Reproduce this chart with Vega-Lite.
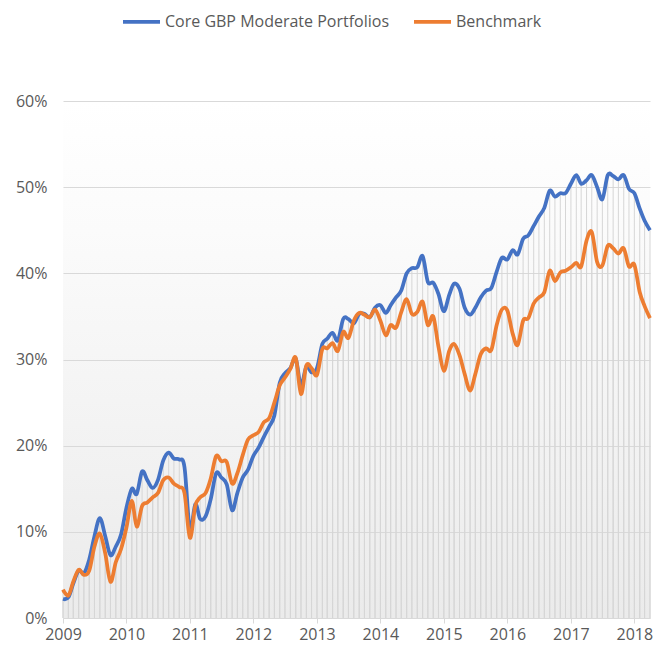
{
  "$schema": "https://vega.github.io/schema/vega-lite/v6.json",
  "width": 587,
  "height": 517,
  "autosize": "none",
  "padding": {"left": 63, "top": 101, "right": 3, "bottom": 29},
  "config": {
    "view": {
      "stroke": null,
      "fill": {"gradient": "linear", "x1": 0, "y1": 0, "x2": 0, "y2": 1, "stops": [{"offset": 0, "color": "#ffffff"}, {"offset": 0.25, "color": "#fbfbfb"}, {"offset": 1, "color": "#ebebeb"}]}
    },
    "axis": {"labelFont": "Open Sans", "labelFontSize": 16, "labelColor": "#595959"},
    "legend": {"labelFont": "Open Sans", "labelFontSize": 16, "labelColor": "#595959", "labelLimit": 0}
  },
  "data": {"values": [
    {"date": "2009-01-01", "core": 2.2, "bench": 3.3},
    {"date": "2009-02-01", "core": 2.4, "bench": 2.6},
    {"date": "2009-03-01", "core": 4.0, "bench": 4.2},
    {"date": "2009-04-01", "core": 5.5, "bench": 5.6},
    {"date": "2009-05-01", "core": 5.2, "bench": 5.0},
    {"date": "2009-06-01", "core": 6.8, "bench": 5.5},
    {"date": "2009-07-01", "core": 9.5, "bench": 8.3},
    {"date": "2009-08-01", "core": 11.6, "bench": 9.8},
    {"date": "2009-09-01", "core": 9.5, "bench": 7.5},
    {"date": "2009-10-01", "core": 7.3, "bench": 4.2},
    {"date": "2009-11-01", "core": 8.3, "bench": 6.5},
    {"date": "2009-12-01", "core": 9.7, "bench": 8.0},
    {"date": "2010-01-01", "core": 12.8, "bench": 10.5},
    {"date": "2010-02-01", "core": 15.0, "bench": 13.6},
    {"date": "2010-03-01", "core": 14.4, "bench": 10.6},
    {"date": "2010-04-01", "core": 17.0, "bench": 13.0},
    {"date": "2010-05-01", "core": 16.0, "bench": 13.4},
    {"date": "2010-06-01", "core": 15.1, "bench": 14.0},
    {"date": "2010-07-01", "core": 16.0, "bench": 14.5},
    {"date": "2010-08-01", "core": 18.3, "bench": 16.0},
    {"date": "2010-09-01", "core": 19.2, "bench": 16.3},
    {"date": "2010-10-01", "core": 18.5, "bench": 15.6},
    {"date": "2010-11-01", "core": 18.4, "bench": 15.2},
    {"date": "2010-12-01", "core": 17.5, "bench": 14.5},
    {"date": "2011-01-01", "core": 10.2, "bench": 9.3},
    {"date": "2011-02-01", "core": 13.2, "bench": 13.0},
    {"date": "2011-03-01", "core": 11.5, "bench": 14.0},
    {"date": "2011-04-01", "core": 11.8, "bench": 14.5},
    {"date": "2011-05-01", "core": 13.8, "bench": 16.2},
    {"date": "2011-06-01", "core": 16.8, "bench": 18.8},
    {"date": "2011-07-01", "core": 16.3, "bench": 18.2},
    {"date": "2011-08-01", "core": 15.5, "bench": 18.1},
    {"date": "2011-09-01", "core": 12.5, "bench": 15.6},
    {"date": "2011-10-01", "core": 14.5, "bench": 16.8},
    {"date": "2011-11-01", "core": 16.3, "bench": 18.9},
    {"date": "2011-12-01", "core": 17.2, "bench": 20.7},
    {"date": "2012-01-01", "core": 18.8, "bench": 21.2},
    {"date": "2012-02-01", "core": 19.8, "bench": 21.6},
    {"date": "2012-03-01", "core": 21.0, "bench": 22.7},
    {"date": "2012-04-01", "core": 22.2, "bench": 23.2},
    {"date": "2012-05-01", "core": 23.5, "bench": 25.0},
    {"date": "2012-06-01", "core": 27.3, "bench": 27.0},
    {"date": "2012-07-01", "core": 28.4, "bench": 27.9},
    {"date": "2012-08-01", "core": 29.0, "bench": 28.9},
    {"date": "2012-09-01", "core": 30.1, "bench": 30.2},
    {"date": "2012-10-01", "core": 27.0, "bench": 26.0},
    {"date": "2012-11-01", "core": 29.2, "bench": 29.3},
    {"date": "2012-12-01", "core": 28.5, "bench": 29.0},
    {"date": "2013-01-01", "core": 29.0, "bench": 28.2},
    {"date": "2013-02-01", "core": 31.8, "bench": 31.2},
    {"date": "2013-03-01", "core": 32.4, "bench": 31.3},
    {"date": "2013-04-01", "core": 33.1, "bench": 31.9},
    {"date": "2013-05-01", "core": 32.2, "bench": 31.0},
    {"date": "2013-06-01", "core": 34.7, "bench": 33.2},
    {"date": "2013-07-01", "core": 34.7, "bench": 32.5},
    {"date": "2013-08-01", "core": 34.2, "bench": 34.5},
    {"date": "2013-09-01", "core": 35.3, "bench": 35.4},
    {"date": "2013-10-01", "core": 35.3, "bench": 35.2},
    {"date": "2013-11-01", "core": 34.9, "bench": 34.9},
    {"date": "2013-12-01", "core": 36.0, "bench": 35.8},
    {"date": "2014-01-01", "core": 36.3, "bench": 34.5},
    {"date": "2014-02-01", "core": 35.4, "bench": 32.8},
    {"date": "2014-03-01", "core": 36.3, "bench": 34.0},
    {"date": "2014-04-01", "core": 37.2, "bench": 33.7},
    {"date": "2014-05-01", "core": 38.0, "bench": 35.5},
    {"date": "2014-06-01", "core": 40.0, "bench": 37.0},
    {"date": "2014-07-01", "core": 40.6, "bench": 35.3},
    {"date": "2014-08-01", "core": 40.7, "bench": 35.5},
    {"date": "2014-09-01", "core": 42.0, "bench": 36.7},
    {"date": "2014-10-01", "core": 39.0, "bench": 34.0},
    {"date": "2014-11-01", "core": 38.9, "bench": 35.0},
    {"date": "2014-12-01", "core": 37.6, "bench": 31.5},
    {"date": "2015-01-01", "core": 35.6, "bench": 28.7},
    {"date": "2015-02-01", "core": 37.5, "bench": 31.0},
    {"date": "2015-03-01", "core": 38.8, "bench": 31.8},
    {"date": "2015-04-01", "core": 38.2, "bench": 30.5},
    {"date": "2015-05-01", "core": 36.0, "bench": 28.3},
    {"date": "2015-06-01", "core": 35.2, "bench": 26.4},
    {"date": "2015-07-01", "core": 36.0, "bench": 28.3},
    {"date": "2015-08-01", "core": 37.2, "bench": 30.6},
    {"date": "2015-09-01", "core": 38.0, "bench": 31.3},
    {"date": "2015-10-01", "core": 38.3, "bench": 31.1},
    {"date": "2015-11-01", "core": 40.2, "bench": 34.0},
    {"date": "2015-12-01", "core": 41.8, "bench": 35.8},
    {"date": "2016-01-01", "core": 41.6, "bench": 35.7},
    {"date": "2016-02-01", "core": 42.7, "bench": 33.0},
    {"date": "2016-03-01", "core": 42.2, "bench": 31.7},
    {"date": "2016-04-01", "core": 44.0, "bench": 34.5},
    {"date": "2016-05-01", "core": 44.4, "bench": 34.8},
    {"date": "2016-06-01", "core": 45.5, "bench": 36.5},
    {"date": "2016-07-01", "core": 46.6, "bench": 37.2},
    {"date": "2016-08-01", "core": 47.6, "bench": 37.8},
    {"date": "2016-09-01", "core": 49.6, "bench": 40.3},
    {"date": "2016-10-01", "core": 48.9, "bench": 39.1},
    {"date": "2016-11-01", "core": 49.3, "bench": 40.1},
    {"date": "2016-12-01", "core": 49.3, "bench": 40.3},
    {"date": "2017-01-01", "core": 50.4, "bench": 40.7},
    {"date": "2017-02-01", "core": 51.4, "bench": 41.2},
    {"date": "2017-03-01", "core": 50.4, "bench": 40.8},
    {"date": "2017-04-01", "core": 50.8, "bench": 43.8},
    {"date": "2017-05-01", "core": 51.4, "bench": 44.8},
    {"date": "2017-06-01", "core": 50.0, "bench": 41.3},
    {"date": "2017-07-01", "core": 48.6, "bench": 40.9},
    {"date": "2017-08-01", "core": 51.4, "bench": 43.2},
    {"date": "2017-09-01", "core": 51.3, "bench": 42.9},
    {"date": "2017-10-01", "core": 50.9, "bench": 42.3},
    {"date": "2017-11-01", "core": 51.4, "bench": 42.9},
    {"date": "2017-12-01", "core": 49.8, "bench": 40.8},
    {"date": "2018-01-01", "core": 49.3, "bench": 41.0},
    {"date": "2018-02-01", "core": 47.5, "bench": 37.8},
    {"date": "2018-03-01", "core": 46.1, "bench": 36.2},
    {"date": "2018-04-01", "core": 45.0, "bench": 34.8}
  ]},
  "encoding": {
    "x": {
      "field": "date", "type": "temporal", "title": null,
      "scale": {"type": "utc", "domain": [{"year": 2009, "month": 1, "date": 1, "utc": true}, {"year": 2018, "month": 4, "date": 1, "utc": true}]},
      "axis": {"format": "%Y", "tickCount": {"interval": "year", "step": 1}, "grid": false, "domainColor": "#d9d9d9", "tickColor": "#d9d9d9", "tickSize": 5, "labelPadding": 3, "labelFlush": false, "labelOverlap": false}
    }
  },
  "layer": [
    {
      "mark": {"type": "rule", "color": "#d6d6d6", "strokeWidth": 1},
      "encoding": {
        "y": {"field": "core", "type": "quantitative", "title": null, "scale": {"domain": [0, 60]},
          "axis": {"values": [0, 10, 20, 30, 40, 50, 60], "labelExpr": "datum.value + '%'", "domain": false, "ticks": false, "gridColor": "#d9d9d9", "labelPadding": 16}},
        "y2": {"datum": 0}
      }
    },
    {
      "mark": {"type": "rule", "color": "#d6d6d6", "strokeWidth": 1},
      "encoding": {
        "y": {"field": "bench", "type": "quantitative", "title": null},
        "y2": {"datum": 0}
      }
    },
    {
      "mark": {"type": "line", "strokeWidth": 3.75, "interpolate": "cardinal"},
      "encoding": {
        "y": {"field": "core", "type": "quantitative", "title": null},
        "color": {"datum": "Core GBP Moderate Portfolios", "type": "nominal",
          "scale": {"domain": ["Core GBP Moderate Portfolios", "Benchmark"], "range": ["#4472C4", "#ED7D31"]},
          "legend": {"title": null, "orient": "none", "legendX": 58, "legendY": -100, "direction": "horizontal", "symbolType": "stroke", "symbolSize": 1369, "symbolStrokeWidth": 3.75, "labelOffset": 3, "columnPadding": 16}}
      }
    },
    {
      "mark": {"type": "line", "strokeWidth": 3.75, "interpolate": "cardinal"},
      "encoding": {
        "y": {"field": "bench", "type": "quantitative", "title": null},
        "color": {"datum": "Benchmark", "type": "nominal"}
      }
    }
  ]
}
